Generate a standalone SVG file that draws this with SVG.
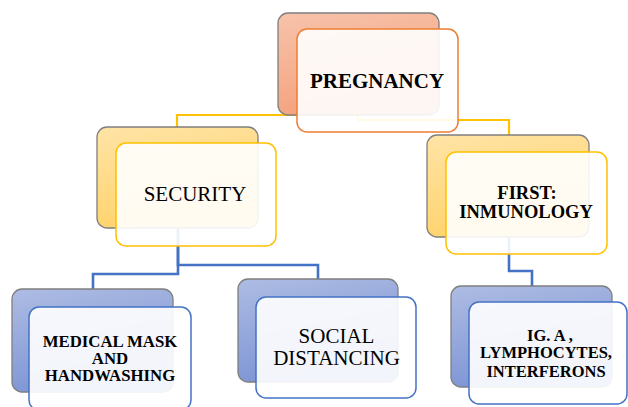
<svg xmlns="http://www.w3.org/2000/svg" width="628" height="407" viewBox="0 0 628 407">
<defs>
<linearGradient id="gO" x1="0" y1="0" x2="0.3" y2="1"><stop offset="0" stop-color="#F7C3AB"/><stop offset="1" stop-color="#F4A27E"/></linearGradient>
<linearGradient id="gY" x1="0" y1="0" x2="0.3" y2="1"><stop offset="0" stop-color="#FFE4A6"/><stop offset="1" stop-color="#FFD36C"/></linearGradient>
<linearGradient id="gB" x1="0" y1="0" x2="0.3" y2="1"><stop offset="0" stop-color="#AEBCE3"/><stop offset="1" stop-color="#7D95D5"/></linearGradient>
</defs>
<style>
.back{stroke:#7F7F7F;stroke-width:1.3}
.front{fill:#FFFFFF;fill-opacity:0.9;stroke-width:1.5}
.o{stroke:#ED7D31}
.y{stroke:#FFC000}
.b{stroke:#4472C4}
.cy{fill:none;stroke:#FFC000;stroke-width:2.2}
.cb{fill:none;stroke:#4472C4;stroke-width:2.6}
text{font-family:"Liberation Serif","Times New Roman",serif;fill:#000;text-anchor:middle}
.bold{font-weight:bold}
</style>
<g id="connectors">
<path class="cy" d="M358 115 H177 V128"/>
<path class="cy" d="M358 115 V120 H509 V135"/>
<path class="cb" d="M178 228 V274 H93 V289"/>
<path class="cb" d="M178 228 V265 H318 V279"/>
<path class="cb" d="M509 237 V271 H532 V286"/>
</g>
<g id="pregnancy">
<rect class="back" x="278" y="13" width="161" height="102" rx="10" fill="url(#gO)"/>
<rect class="front o" x="297" y="29" width="161" height="103" rx="10"/>
<text class="bold" x="377" y="88" font-size="21">PREGNANCY</text>
</g>
<g id="security">
<rect class="back" x="97" y="127" width="161" height="101" rx="10" fill="url(#gY)"/>
<rect class="front y" x="116" y="143" width="160" height="103" rx="10"/>
<text x="195" y="201" font-size="21">SECURITY</text>
</g>
<g id="first">
<rect class="back" x="427" y="135" width="162" height="102" rx="10" fill="url(#gY)"/>
<rect class="front y" x="446" y="152" width="161" height="102" rx="10"/>
<text class="bold" x="527" y="199" font-size="18.5">FIRST:</text>
<text class="bold" x="526" y="217.5" font-size="18.5">INMUNOLOGY</text>
</g>
<g id="medical">
<rect class="back" x="12" y="289" width="161" height="103" rx="10" fill="url(#gB)"/>
<rect class="front b" x="29" y="307" width="162" height="103" rx="10"/>
<text class="bold" x="110" y="346.5" font-size="16.8">MEDICAL MASK</text>
<text class="bold" x="110" y="363.5" font-size="16.8">AND</text>
<text class="bold" x="110" y="380.5" font-size="16.8">HANDWASHING</text>
</g>
<g id="social">
<rect class="back" x="238" y="279" width="160" height="103" rx="10" fill="url(#gB)"/>
<rect class="front b" x="256" y="297" width="160" height="101" rx="10"/>
<text x="336.5" y="343" font-size="21">SOCIAL</text>
<text x="336.5" y="365" font-size="21">DISTANCING</text>
</g>
<g id="ig">
<rect class="back" x="451" y="286" width="161" height="101" rx="10" fill="url(#gB)"/>
<rect class="front b" x="469" y="302" width="158" height="102" rx="10"/>
<text class="bold" x="550" y="340.5" font-size="16.5">IG. A ,</text>
<text class="bold" x="546" y="358.3" font-size="16.5">LYMPHOCYTES,</text>
<text class="bold" x="546" y="376.7" font-size="16.5">INTERFERONS</text>
</g>
</svg>
